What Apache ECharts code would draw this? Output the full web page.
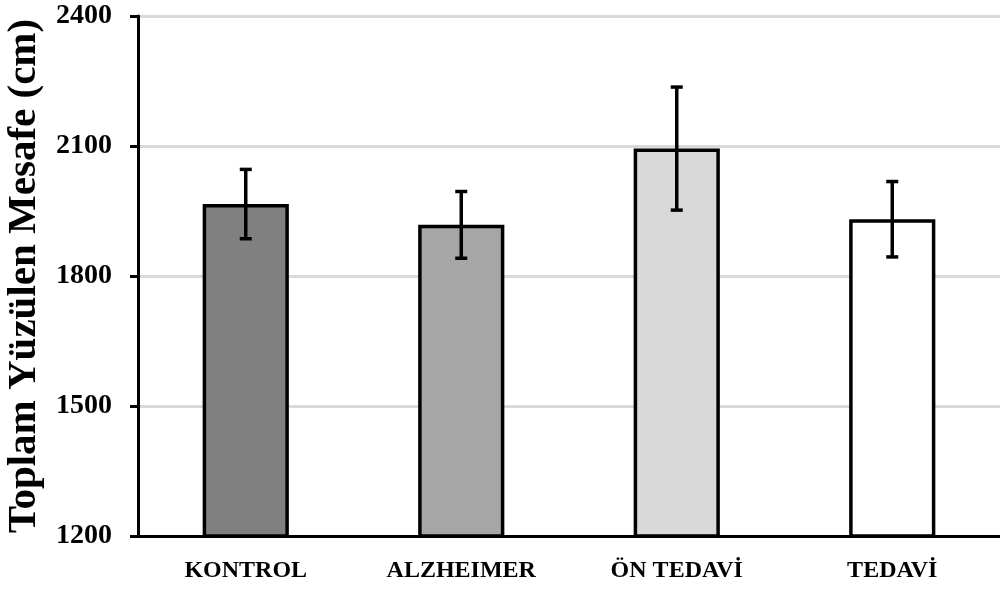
<!DOCTYPE html>
<html>
<head>
<meta charset="utf-8">
<script src="https://cdn.jsdelivr.net/npm/echarts@6/dist/echarts.min.js"></script>
<style>html,body{margin:0;padding:0;background:#fff}#c{width:1000px;height:591px}</style>
</head>
<body>
<div id="c"></div>
<script>
var categories = ['KONTROL', 'ALZHEIMER', 'ÖN TEDAVİ', 'TEDAVİ'];
var means = [1966, 1918, 2094, 1931];
var errors = [80, 77, 142, 87];
var barColors = ['#808080', '#a6a6a6', '#d9d9d9', '#ffffff'];
var yTicks = [1200, 1500, 1800, 2100, 2400];

var chart = echarts.init(document.getElementById('c'));
var font = '"Liberation Serif", "Times New Roman", serif';
chart.setOption({
  animation: false,
  backgroundColor: '#ffffff',
  grid: { left: 138, right: 0, top: 16, bottom: 55, containLabel: false, outerBoundsMode: 'none' },
  xAxis: {
    type: 'category',
    data: categories,
    axisLine: { lineStyle: { color: '#000', width: 3 } },
    axisTick: { show: false },
    axisLabel: { color: '#000', fontFamily: font, fontWeight: 'bold', fontSize: 24, margin: 23 }
  },
  yAxis: {
    type: 'value',
    min: yTicks[0], max: yTicks[yTicks.length - 1], interval: 300,
    name: 'Toplam Yüzülen Mesafe (cm)',
    nameLocation: 'middle', nameRotate: 90, nameGap: 93,
    nameTextStyle: { color: '#000', fontFamily: font, fontWeight: 'bold', fontSize: 41 },
    axisLine: { show: true, lineStyle: { color: '#000', width: 3 } },
    axisTick: { show: true, length: 8, lineStyle: { color: '#000', width: 3 } },
    axisLabel: { color: '#000', fontFamily: font, fontWeight: 'bold', fontSize: 28, margin: 26,
      formatter: function (v) { return String(v); } },
    splitLine: { lineStyle: { color: '#d9d9d9', width: 3 } }
  },
  series: [
    {
      type: 'bar',
      barWidth: '40%',
      data: means.map(function (v, i) {
        return { value: v, itemStyle: { color: barColors[i] } };
      }),
      itemStyle: { borderColor: '#000', borderWidth: 3.5 }
    },
    {
      type: 'custom',
      z: 10,
      data: means.map(function (v, i) { return [i, v - errors[i], v + errors[i]]; }),
      renderItem: function (params, api) {
        var lo = api.coord([api.value(0), api.value(1)]);
        var hi = api.coord([api.value(0), api.value(2)]);
        var hw = 6;
        var style = { stroke: '#000', lineWidth: 3.5 };
        return {
          type: 'group',
          children: [
            { type: 'line', shape: { x1: lo[0], y1: lo[1], x2: hi[0], y2: hi[1] }, style: style },
            { type: 'line', shape: { x1: lo[0] - hw, y1: lo[1], x2: lo[0] + hw, y2: lo[1] }, style: style },
            { type: 'line', shape: { x1: hi[0] - hw, y1: hi[1], x2: hi[0] + hw, y2: hi[1] }, style: style }
          ]
        };
      }
    }
  ]
});
</script>
</body>
</html>
